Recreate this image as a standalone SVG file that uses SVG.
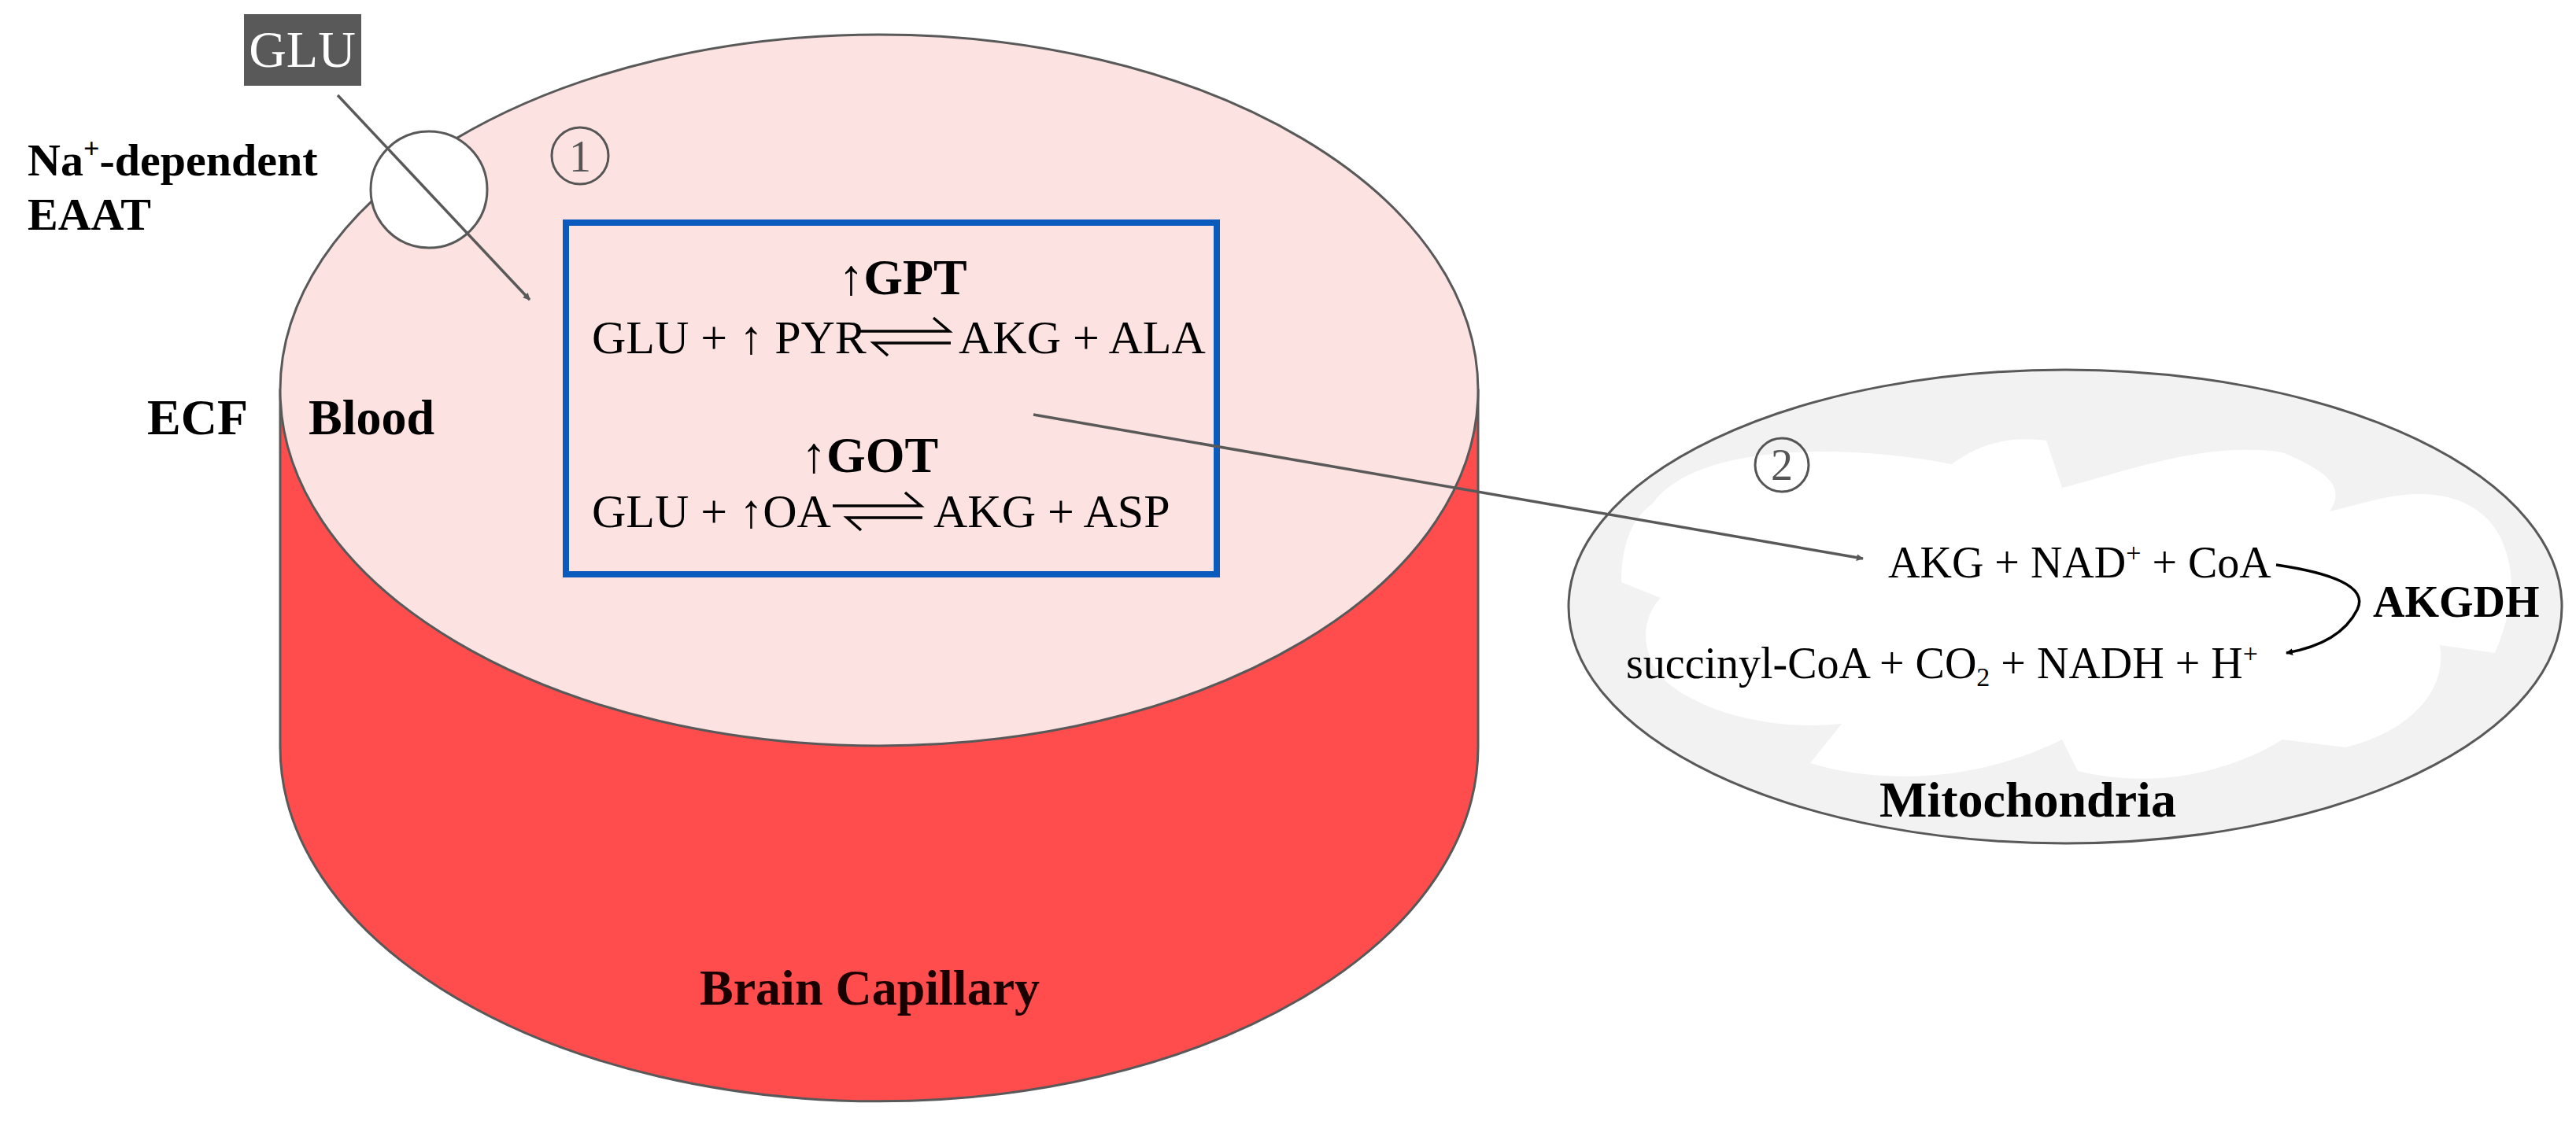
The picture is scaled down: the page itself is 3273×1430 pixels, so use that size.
<svg xmlns="http://www.w3.org/2000/svg" width="3273" height="1430" viewBox="0 0 3273 1430">
<style>
text{font-family:"Liberation Serif","DejaVu Serif",serif;fill:#000}
.b{font-weight:bold}
.r{font-size:60px}
.lbl{font-size:64px;font-weight:bold}
.num{font-size:56px;fill:#555}
.edge{stroke:#595959;stroke-width:3.5;fill:none}
</style>
<defs>
<marker id="ah" viewBox="0 0 10 10" refX="9" refY="5" markerWidth="9" markerHeight="9" markerUnits="userSpaceOnUse" orient="auto">
<path d="M0,0 L10,5 L0,10 z" fill="#595959"/>
</marker>
<marker id="ahb" viewBox="0 0 10 10" refX="9" refY="5" markerWidth="9" markerHeight="9" markerUnits="userSpaceOnUse" orient="auto">
<path d="M0,0 L10,5 L0,10 z" fill="#000"/>
</marker>
</defs>
<rect width="3273" height="1430" fill="#fff"/>
<g id="capillary">
<path d="M356,496 L356,950 A761,450 0 0 0 1878,950 L1878,496 Z" fill="#ff4d4d" stroke="#595959" stroke-width="3"/>
<ellipse cx="1117" cy="496" rx="761" ry="452" fill="#fde2e2" stroke="#595959" stroke-width="3"/>
<text x="889" y="1277" class="lbl" style="fill:#1a0000">Brain Capillary</text>
<text x="187" y="552" class="lbl">ECF</text>
<text x="392" y="552" class="lbl">Blood</text>
<circle cx="737" cy="198" r="36" fill="none" stroke="#555" stroke-width="3"/>
<text x="737" y="218" class="num" text-anchor="middle">1</text>
</g>
<g id="eaat">
<ellipse cx="545" cy="241" rx="74" ry="74" fill="#fff" stroke="#595959" stroke-width="3"/>
<text x="35" y="223" class="b" style="font-size:58px">Na<tspan dy="-22" style="font-size:36px">+</tspan><tspan dy="22">-dependent</tspan></text>
<text x="35" y="292" class="b" style="font-size:58px">EAAT</text>
</g>
<g id="glu">
<rect x="310" y="18" width="149" height="91" fill="#595959"/>
<text x="384" y="85" text-anchor="middle" style="font-size:66px;fill:#fff">GLU</text>
</g>
<g id="reactions">
<rect x="719" y="283" width="827" height="447" fill="none" stroke="#0a5bbd" stroke-width="8"/>
<text x="1147" y="374" class="b" text-anchor="middle" style="font-size:64px">↑GPT</text>
<text x="752" y="449" class="r">GLU + ↑ PYR</text>
<path d="M1092,421 H1206 L1186,404 M1208,436 H1110 L1128,452" fill="none" stroke="#000" stroke-width="3.5"/>
<text x="1218" y="449" class="r">AKG + ALA</text>
<text x="1105" y="600" class="b" text-anchor="middle" style="font-size:64px">↑GOT</text>
<text x="752" y="670" class="r">GLU + ↑OA</text>
<path d="M1058,643 H1170 L1150,626 M1172,658 H1076 L1094,674" fill="none" stroke="#000" stroke-width="3.5"/>
<text x="1186" y="670" class="r">AKG + ASP</text>
</g>
<g id="mitochondria">
<ellipse cx="2624" cy="771" rx="631" ry="301" fill="#f2f2f2" stroke="#595959" stroke-width="3"/>
<path d="M2100,640 C2150,570 2320,560 2480,590 C2520,560 2560,555 2600,560 L2620,620 C2700,600 2800,560 2900,575 C2960,600 2980,620 2960,650 L3000,640 C3100,610 3160,640 3180,690 C3200,740 3190,780 3170,830 L3100,820 C3110,880 3060,930 2980,950 L2900,940 C2820,990 2720,1000 2640,980 L2620,940 C2520,990 2400,1000 2300,970 L2340,920 C2240,930 2150,900 2110,860 C2080,820 2090,780 2110,760 L2060,740 C2060,700 2070,660 2100,640 Z" fill="#fff"/>
<circle cx="2264" cy="591" r="34" fill="none" stroke="#555" stroke-width="3"/>
<text x="2264" y="610" class="num" text-anchor="middle">2</text>
<text x="2399" y="734" style="font-size:56px">AKG + NAD<tspan dy="-20" style="font-size:34px">+</tspan><tspan dy="20"> + CoA</tspan></text>
<text x="2066" y="862" style="font-size:56px">succinyl-CoA + CO<tspan dy="10" style="font-size:34px">2</tspan><tspan dy="-10"> + NADH + H</tspan><tspan dy="-20" style="font-size:34px">+</tspan></text>
<text x="3015" y="784" class="b" style="font-size:56px">AKGDH</text>
<path d="M2892,718 C2960,728 3010,745 2995,775 C2980,805 2950,822 2905,830" fill="none" stroke="#000" stroke-width="3.5" marker-end="url(#ahb)"/>
<text x="2388" y="1038" class="lbl">Mitochondria</text>
</g>
<g id="connectors">
<line x1="429" y1="121" x2="673" y2="381" class="edge" marker-end="url(#ah)"/>
<line x1="1313" y1="527" x2="2367" y2="710" class="edge" marker-end="url(#ah)"/>
</g>
</svg>
